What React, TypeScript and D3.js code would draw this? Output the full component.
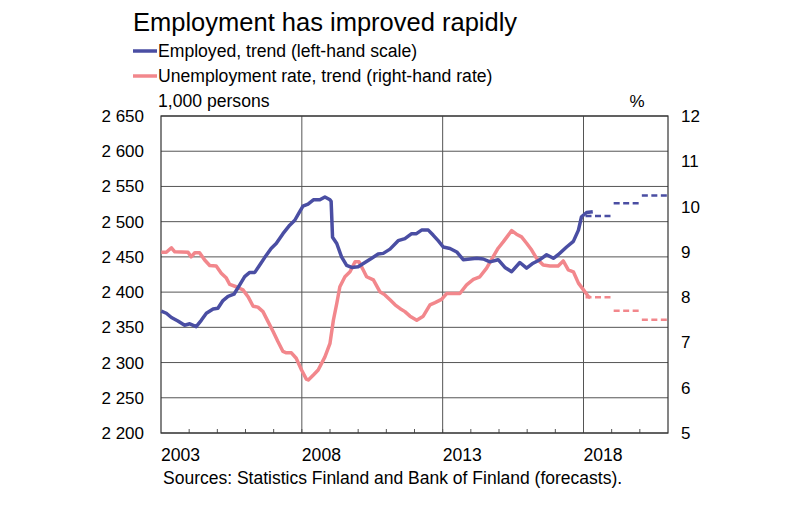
import React from "react";
import * as d3 from "d3";

const employedYears = [2003.01,2003.19,2003.37,2003.6,2003.84,2004.02,2004.25,2004.43,2004.61,2004.85,2005.02,2005.2,2005.38,2005.59,2005.79,2005.97,2006.15,2006.33,2006.5,2006.68,2006.91,2007.09,2007.33,2007.57,2007.75,2007.92,2008.04,2008.22,2008.41,2008.64,2008.82,2009.0,2009.04,2009.09,2009.24,2009.41,2009.59,2009.77,2010.0,2010.24,2010.48,2010.71,2010.89,2011.13,2011.42,2011.66,2011.9,2012.07,2012.25,2012.49,2012.66,2012.84,2013.02,2013.26,2013.5,2013.73,2013.97,2014.21,2014.44,2014.68,2014.97,2015.21,2015.45,2015.74,2015.98,2016.21,2016.45,2016.69,2016.93,2017.1,2017.4,2017.64,2017.82,2017.93,2018.11,2018.33];
const employedValues = [2373,2370,2364,2359,2353,2355,2351,2360,2370,2376,2377,2388,2394,2397,2410,2422,2428,2428,2438,2449,2462,2469,2483,2495,2502,2514,2522,2525,2531,2531,2535,2531,2529,2478,2469,2450,2438,2435,2436,2442,2448,2454,2455,2461,2473,2476,2483,2483,2488,2488,2481,2473,2464,2462,2457,2446,2447,2448,2447,2443,2446,2435,2429,2442,2434,2441,2446,2453,2448,2453,2464,2472,2488,2507,2513,2514];

const unempYears = [2003.01,2003.19,2003.37,2003.49,2003.96,2004.07,2004.2,2004.37,2004.55,2004.73,2004.96,2005.14,2005.32,2005.44,2005.67,2005.91,2006.09,2006.27,2006.44,2006.62,2006.8,2006.98,2007.15,2007.33,2007.45,2007.63,2007.8,2007.99,2008.16,2008.23,2008.41,2008.58,2008.82,2009.0,2009.12,2009.24,2009.35,2009.53,2009.71,2009.89,2010.03,2010.18,2010.3,2010.54,2010.77,2010.95,2011.13,2011.31,2011.48,2011.66,2011.84,2012.08,2012.31,2012.55,2012.73,2012.96,2013.14,2013.61,2013.85,2014.09,2014.32,2014.56,2014.79,2014.97,2015.15,2015.33,2015.45,2015.62,2015.8,2015.98,2016.16,2016.33,2016.57,2016.81,2017.1,2017.28,2017.46,2017.64,2017.82,2018.0,2018.18,2018.24];
const unempValues = [8.99,8.99,9.09,9.0,8.99,8.89,8.98,8.98,8.82,8.7,8.69,8.53,8.42,8.28,8.23,8.16,8.01,7.8,7.78,7.68,7.46,7.24,7.02,6.8,6.77,6.77,6.65,6.39,6.19,6.17,6.28,6.39,6.68,6.98,7.49,7.86,8.23,8.45,8.56,8.78,8.78,8.6,8.45,8.38,8.12,8.05,7.94,7.83,7.75,7.68,7.58,7.49,7.58,7.83,7.88,7.95,8.08,8.08,8.27,8.39,8.45,8.64,8.89,9.08,9.22,9.37,9.47,9.39,9.33,9.19,9.04,8.86,8.71,8.69,8.69,8.8,8.6,8.56,8.31,8.16,8.01,7.99];

const forecastYears = [2018, 2019, 2020];
const employedForecast = [2508, 2526, 2537];
const unempForecast = [8.0, 7.7, 7.5];

const leftTicks = [2200, 2250, 2300, 2350, 2400, 2450, 2500, 2550, 2600, 2650];
const rightTicks = [5, 6, 7, 8, 9, 10, 11, 12];
const yearLabels = [2003, 2008, 2013, 2018];
const gridYears = [2008, 2013, 2018];
const minorYears = d3.range(2004, 2021);

const BLUE = "#4a4ea3";
const PINK = "#f2878c";
const FONT = "'Liberation Sans', Arial, sans-serif";

export default function App() {
  const x = d3.scaleLinear().domain([2003, 2021]).range([161, 668]);
  const yL = d3.scaleLinear().domain([2200, 2650]).range([433, 116]);
  const yR = d3.scaleLinear().domain([5, 12]).range([433, 116]);

  const lineL = d3.line<number>().x((_, i) => x(employedYears[i])).y((d) => yL(d));
  const lineR = d3.line<number>().x((_, i) => x(unempYears[i])).y((d) => yR(d));
  const fmt = (v: number) => d3.format(",")(v).replace(",", " ");

  return (
    <svg width={800} height={522} style={{ position: "absolute", left: 0, top: 0, background: "#fff" }} fontFamily={FONT}>
      <rect width={800} height={522} fill="#fff" />
      <text x={133} y={31} fontSize={25.5} fill="#000">Employment has improved rapidly</text>
      <line x1={133} x2={157} y1={51} y2={51} stroke={BLUE} strokeWidth={3.5} />
      <text x={158} y={57} fontSize={17.6} fill="#000">Employed, trend (left-hand scale)</text>
      <line x1={133} x2={157} y1={76} y2={76} stroke={PINK} strokeWidth={3.5} />
      <text x={158} y={82} fontSize={17.6} fill="#000">Unemployment rate, trend (right-hand rate)</text>
      <text x={158} y={107} fontSize={17.6} fill="#000">1,000 persons</text>
      <text x={637} y={107} fontSize={17} fill="#000" textAnchor="middle">%</text>

      {leftTicks.map((t) => (
        <line key={"g" + t} x1={161} x2={668} y1={yL(t)} y2={yL(t)} stroke="#555" strokeWidth={1} />
      ))}
      {gridYears.map((yr) => (
        <line key={"v" + yr} x1={x(yr)} x2={x(yr)} y1={116} y2={433} stroke="#555" strokeWidth={1} />
      ))}
      {minorYears.map((yr) => (
        <line key={"m" + yr} x1={x(yr)} x2={x(yr)} y1={433} y2={429} stroke="#555" strokeWidth={1} />
      ))}
      <rect x={161} y={116} width={507} height={317} fill="none" stroke="#333" strokeWidth={1.2} />

      {leftTicks.map((t) => (
        <text key={"l" + t} x={144} y={yL(t) + 6} fontSize={17} textAnchor="end" fill="#000">{fmt(t)}</text>
      ))}
      {rightTicks.map((t) => (
        <text key={"r" + t} x={681} y={yR(t) + 6} fontSize={17} fill="#000">{t}</text>
      ))}
      {yearLabels.map((yr) => (
        <text key={"y" + yr} x={x(yr)} y={461} fontSize={17.6} fill="#000">{yr}</text>
      ))}

      <path d={lineR(unempValues) || ""} fill="none" stroke={PINK} strokeWidth={3.5} strokeLinejoin="round" />
      <path d={lineL(employedValues) || ""} fill="none" stroke={BLUE} strokeWidth={3.5} strokeLinejoin="round" />

      {forecastYears.map((yr, i) => (
        <line key={"fe" + yr} x1={x(yr) + 2} x2={x(yr + 1) - 1} y1={yL(employedForecast[i])} y2={yL(employedForecast[i])} stroke={BLUE} strokeWidth={2.5} strokeDasharray="6,3.5" />
      ))}
      {forecastYears.map((yr, i) => (
        <line key={"fu" + yr} x1={x(yr) + 2} x2={x(yr + 1) - 1} y1={yR(unempForecast[i])} y2={yR(unempForecast[i])} stroke={PINK} strokeWidth={2.5} strokeDasharray="6,3.5" />
      ))}

      <text x={163} y={484} fontSize={17.5} fill="#000">Sources: Statistics Finland and Bank of Finland (forecasts).</text>
    </svg>
  );
}
